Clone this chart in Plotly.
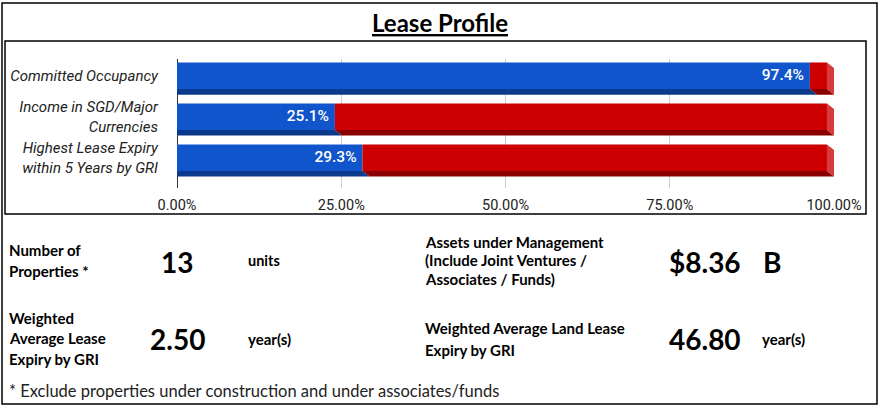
import plotly.graph_objects as go

W, H = 882, 408

# Donnees du profil de bail
categories = ["Committed Occupancy",
              "Income in SGD/Major<br>Currencies",
              "Highest Lease Expiry<br>within 5 Years by GRI"]
blue_pct = [97.4, 25.1, 29.3]
red_pct = [2.6, 74.9, 70.7]
x_ticks = [0, 25, 50, 75, 100]
x_tick_labels = ["0.00%", "25.00%", "50.00%", "75.00%", "100.00%"]

# Indicateurs du bas
kpi_labels = [["Number of", "Properties *"],
              ["Weighted", "Average Lease", "Expiry by GRI"],
              ["Assets under Management", "(Include Joint Ventures /", "Associates / Funds)"],
              ["Weighted Average Land Lease", "Expiry by GRI"]]
kpi_values = ["13", "2.50", "$8.36", "46.80"]
kpi_units = ["units", "year(s)", "B", "year(s)"]
footnote = "* Exclude properties under construction and under associates/funds"
title = "Lease Profile"

BLUE, BLUE_DARK = "#1155cc", "#0b3a8c"
RED, RED_DARK, RED_SIDE = "#cc0000", "#8a0000", "#d63a3a"
WALL = "#e6e6e6"

# effet 3D : decalage avant/arriere en unites d'axe
DX = 1.07
DY = 0.135
BW = 0.65
PAD = 0.9


def px(x):
    return x / W


def py(y):
    return 1 - y / H


ys = list(range(len(categories)))
fig = go.Figure()

# faces du dessous (bleu puis rouge)
def bottom_faces(starts, ends):
    xs, yy = [], []
    for y, a, b in zip(ys, starts, ends):
        yb = y + BW / 2
        xs += [a - DX, b - DX, b, a, a - DX, None]
        yy += [yb, yb, yb + DY, yb + DY, yb, None]
    return xs, yy

totals = [b + r for b, r in zip(blue_pct, red_pct)]
bx, by = bottom_faces([0] * len(ys), blue_pct)
rx, ry = bottom_faces(blue_pct, totals)
fig.add_trace(go.Scatter(x=bx, y=by, fill="toself", fillcolor=BLUE_DARK, mode="lines",
                         line=dict(width=0), hoverinfo="skip", showlegend=False))
fig.add_trace(go.Scatter(x=rx, y=ry, fill="toself", fillcolor=RED_DARK, mode="lines",
                         line=dict(width=0), hoverinfo="skip", showlegend=False))

# faces laterales droites
sx, sy = [], []
for y, t in zip(ys, totals):
    yt, yb = y - BW / 2, y + BW / 2
    sx += [t - DX, t, t, t - DX, t - DX, None]
    sy += [yt, yt + DY, yb + DY, yb, yt, None]
fig.add_trace(go.Scatter(x=sx, y=sy, fill="toself", fillcolor=RED_SIDE, mode="lines",
                         line=dict(width=0), hoverinfo="skip", showlegend=False))

# faces avant
fig.add_trace(go.Bar(y=ys, x=blue_pct, base=[-DX] * len(ys), orientation="h", width=BW,
                     marker=dict(color=BLUE, line=dict(width=0)), hoverinfo="skip", showlegend=False))
fig.add_trace(go.Bar(y=ys, x=red_pct, base=[b - DX for b in blue_pct], orientation="h", width=BW,
                     marker=dict(color=RED, line=dict(width=0)), hoverinfo="skip", showlegend=False))

# etiquettes de valeur
fig.add_trace(go.Scatter(x=[b - DX - PAD for b in blue_pct], y=ys, mode="text",
                         text=[f"{b}%" for b in blue_pct], textposition="middle left",
                         textfont=dict(family="Roboto", size=15.5, color="white", weight=500),
                         hoverinfo="skip", showlegend=False))

# mur gauche gris
n = len(ys)
wall_top = -0.7
wall_bot = n - 1 + BW / 2 + 0.05
fig.add_shape(type="path", xref="x", yref="y", layer="below", line=dict(width=0),
              fillcolor=WALL,
              path=f"M {-DX},{wall_top} L 0,{wall_top + DY * 1.6} L 0,{wall_bot + DY * 1.6} "
                   f"L {-DX},{wall_bot} Z")

fig.update_xaxes(domain=[px(177), px(834)], range=[0, 100], tickvals=x_ticks,
                 ticktext=x_tick_labels, showgrid=True, gridcolor="#cccccc",
                 zeroline=True, zerolinecolor="#333333", zerolinewidth=1,
                 showline=False, ticks="", ticklabelstandoff=6, automargin=False,
                 tickfont=dict(family="Roboto", size=14.5, color="#222222"), fixedrange=True)
fig.update_yaxes(domain=[py(188), py(59)], range=[2.74, -0.41], tickvals=ys,
                 ticktext=categories, showgrid=False, zeroline=False, showline=False,
                 ticks="", ticklabelstandoff=18, automargin=False,
                 tickfont=dict(family="Roboto", size=15, color="#222222", style="italic"),
                 fixedrange=True)

# cadres
fig.add_shape(type="rect", xref="paper", yref="paper", x0=px(2), x1=px(877), y0=py(404), y1=py(3),
              line=dict(color="black", width=1.5))
fig.add_shape(type="rect", xref="paper", yref="paper", x0=px(5), x1=px(866), y0=py(214), y1=py(41),
              line=dict(color="black", width=1.5))

ann = []
ann.append(dict(text=f"<b>{title}</b>", x=px(440), y=py(22), xanchor="center", yanchor="middle",
                font=dict(family="Lato", size=24, color="black", lineposition="under")))

BOLD = dict(family="Lato", size=15, color="black")
label_pos = [(7, [250, 271]), (7, [318, 338, 359]), (423, [242, 260, 279]), (423, [328, 350])]
value_pos = [(177, 262, "center"), (177, 339, "center"), (667, 262, "left"), (667, 339, "left")]
unit_pos = [(246, 260, 14.5), (246, 339, 15), (761, 262, 28), (760, 339, 15)]

for lines, (lx, lys) in zip(kpi_labels, label_pos):
    for t, ly in zip(lines, lys):
        ann.append(dict(text=f"<b>{t}</b>", x=px(lx), y=py(ly), xanchor="left", yanchor="middle",
                        font=BOLD))
for v, (vx, vy, anchor) in zip(kpi_values, value_pos):
    ann.append(dict(text=f"<b>{v}</b>", x=px(vx), y=py(vy), xanchor=anchor, yanchor="middle",
                    font=dict(family="Lato", size=28, color="black")))
for u, (ux, uy, us) in zip(kpi_units, unit_pos):
    ann.append(dict(text=f"<b>{u}</b>", x=px(ux), y=py(uy), xanchor="left", yanchor="middle",
                    font=dict(family="Lato", size=us, color="black")))
ann.append(dict(text=footnote, x=px(7), y=py(391), xanchor="left", yanchor="middle",
                font=dict(family="Lato", size=16.5, color="#222222")))

for a in ann:
    a.update(xref="paper", yref="paper", showarrow=False)

fig.update_layout(width=W, height=H, margin=dict(l=0, r=0, t=0, b=0),
                  paper_bgcolor="white", plot_bgcolor="rgba(0,0,0,0)",
                  barmode="overlay", annotations=ann, showlegend=False)

fig.write_html("out.html", config={"displayModeBar": False},
               post_script="document.body.style.margin='0';")
